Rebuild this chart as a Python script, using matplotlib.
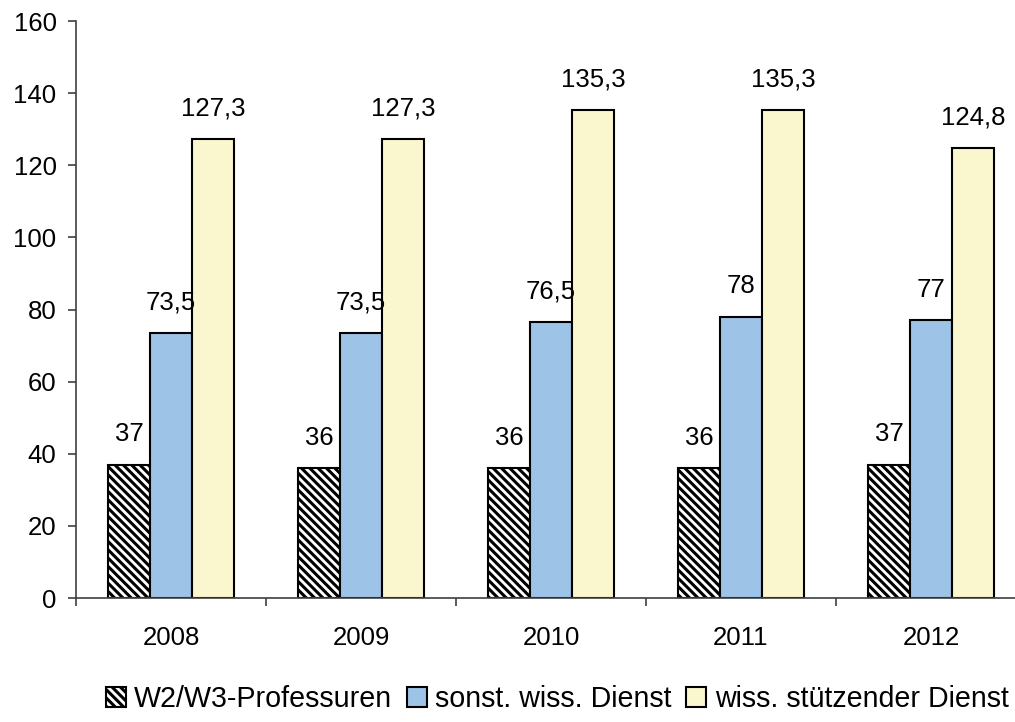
import matplotlib
matplotlib.use("Agg")
import matplotlib.pyplot as plt
import numpy as np

years = ["2008", "2009", "2010", "2011", "2012"]
series_names = ["W2/W3-Professuren", "sonst. wiss. Dienst", "wiss. stützender Dienst"]
professuren = [37, 36, 36, 36, 37]
sonst = [73.5, 73.5, 76.5, 78, 77]
stuetz = [127.3, 127.3, 135.3, 135.3, 124.8]

plt.rcParams['font.family'] = ['Liberation Sans', 'DejaVu Sans']
plt.rcParams['hatch.linewidth'] = 2.2
plt.rcParams['hatch.color'] = 'black'

fig = plt.figure(figsize=(10.15, 7.22), dpi=100)
ax = fig.add_axes([0.0749, 0.1717, 1.0108 - 0.0749, 0.9709 - 0.1717])

x = np.arange(len(years))
w = 0.221
fs = 18.5

def fmt(v):
    return ("%g" % v).replace(".", ",")

data = [professuren, sonst, stuetz]
styles = [dict(facecolor='white', hatch='\\\\\\\\'),
          dict(facecolor='#9DC3E6'),
          dict(facecolor='#FAF6CD')]
handles = []
for i, (vals, st) in enumerate(zip(data, styles)):
    bars = ax.bar(x + (i - 1) * w, vals, width=w, edgecolor='black', linewidth=1.5,
                  label=series_names[i], **st)
    handles.append(bars)
    for xi, v in zip(x + (i - 1) * w, vals):
        ax.annotate(fmt(v), (xi, v), xytext=(0, 22), textcoords='offset points',
                    ha='center', va='center', fontsize=fs)

ax.set_xlim(-0.5, 4.5)
ax.set_ylim(0, 160)
ax.set_yticks(np.arange(0, 161, 20))
ax.set_xticks(x)
ax.set_xticklabels(years, fontsize=fs)
ax.set_xticks(np.arange(-0.5, 4.6, 1), minor=True)
ax.tick_params(axis='x', which='major', length=0, pad=20)
ax.tick_params(axis='x', which='minor', length=6, width=1.2, color='#404040', direction='out')
ax.tick_params(axis='y', length=6, width=1.2, color='#404040', labelsize=fs, pad=8)
for s in ['top', 'right']:
    ax.spines[s].set_visible(False)
for s in ['left', 'bottom']:
    ax.spines[s].set_color('#404040')
    ax.spines[s].set_linewidth(1.2)

fig.legend(handles=handles, labels=series_names, loc='center', bbox_to_anchor=(0.549, 0.032),
           ncol=3, frameon=False, fontsize=20.6, handlelength=0.7, handleheight=0.7,
           handletextpad=0.3, columnspacing=0.5)

fig.savefig("out.png", dpi=100)
